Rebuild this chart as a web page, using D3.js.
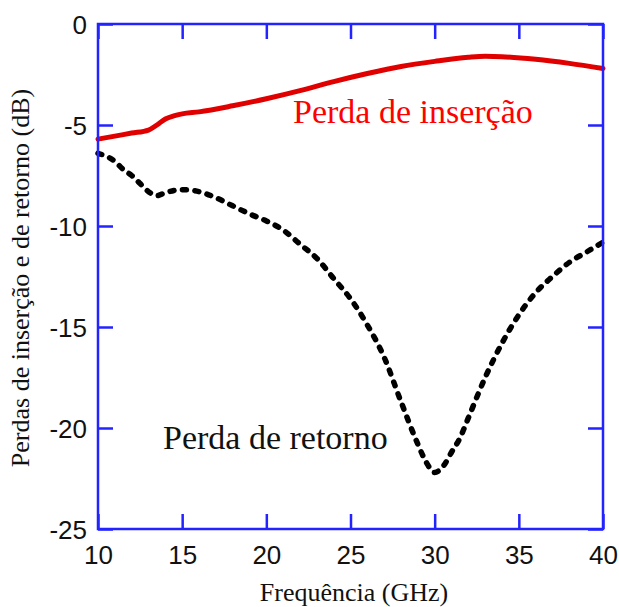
<!DOCTYPE html>
<html>
<head>
<meta charset="utf-8">
<script src="https://cdn.jsdelivr.net/npm/d3@7"></script>
<style>
  html, body { margin: 0; padding: 0; background: #fff; }
  svg { display: block; }
</style>
</head>
<body>
<svg id="chart" width="619" height="607"></svg>
<script>
// Frequency axis (GHz) and loss values (dB)
const insFreq = [10, 11, 12, 13, 13.5, 14, 14.5, 15, 16, 18, 20, 22, 24, 26, 28, 30, 32, 33, 34, 36, 38, 40];
const insLoss = [-5.7, -5.55, -5.4, -5.25, -5.0, -4.7, -4.55, -4.45, -4.35, -4.05, -3.7, -3.3, -2.85, -2.45, -2.1, -1.85, -1.65, -1.6, -1.62, -1.75, -1.95, -2.2];

const retFreq = [10, 11, 11.5, 12, 12.5, 13, 13.5, 14, 15, 16, 17, 18, 19, 20, 21, 22, 23, 24, 25, 26, 27, 28, 29, 29.5, 30, 30.5, 31, 31.5, 32, 33, 34, 35, 36, 37, 38, 39, 40];
const retLoss = [-6.4, -6.8, -7.2, -7.5, -7.9, -8.3, -8.5, -8.35, -8.2, -8.3, -8.6, -9.0, -9.4, -9.75, -10.2, -10.9, -11.6, -12.6, -13.6, -14.9, -16.5, -18.7, -20.8, -21.7, -22.2, -21.9, -21.2, -20.5, -19.5, -17.5, -15.8, -14.4, -13.3, -12.5, -11.8, -11.3, -10.8];

const xTicks = [10, 15, 20, 25, 30, 35, 40];
const yTicks = [0, -5, -10, -15, -20, -25];

const xTitle = "Frequência (GHz)";
const yTitle = "Perdas de inserção e de retorno (dB)";
const insLabel = "Perda de inserção";
const retLabel = "Perda de retorno";

const W = 619, H = 607;
const margin = { left: 98, top: 24, right: 16, bottom: 78 };
const iw = W - margin.left - margin.right;
const ih = H - margin.top - margin.bottom;

const svg = d3.select("#chart");
const g = svg.append("g").attr("transform", `translate(${margin.left},${margin.top})`);

const x = d3.scaleLinear().domain([10, 40]).range([0, iw]);
const y = d3.scaleLinear().domain([-25, 0]).range([ih, 0]);

const axisColor = "#2323ff";
const tickLen = 15;
const serif = "'Liberation Serif', 'Times New Roman', serif";
const sans = "'Liberation Sans', Arial, sans-serif";
// plain hyphen-minus for negative tick labels
const fmt = d => String(d);

// Curves
const line = d3.line().x(d => x(d[0])).y(d => y(d[1])).curve(d3.curveMonotoneX);

g.append("path")
  .datum(retFreq.map((f, i) => [f, retLoss[i]]))
  .attr("d", line)
  .attr("fill", "none")
  .attr("stroke", "#000")
  .attr("stroke-width", 5.5)
  .attr("stroke-linecap", "round")
  .attr("stroke-dasharray", "4 8.5");

g.append("path")
  .datum(insFreq.map((f, i) => [f, insLoss[i]]))
  .attr("d", line)
  .attr("fill", "none")
  .attr("stroke", "#e00000")
  .attr("stroke-width", 5)
  .attr("stroke-linecap", "round");

// Axes with inward ticks on all four sides
function styleAxis(sel) {
  sel.select(".domain").remove();
  sel.selectAll(".tick line").attr("stroke", axisColor).attr("stroke-width", 2.5);
  sel.selectAll(".tick text").attr("fill", "#111").style("font-family", sans).style("font-size", "26px");
}

const axBottom = g.append("g").attr("transform", `translate(0,${ih})`)
  .call(d3.axisBottom(x).tickValues(xTicks).tickSize(-tickLen).tickPadding(17).tickFormat(fmt));
styleAxis(axBottom);

const axTop = g.append("g")
  .call(d3.axisTop(x).tickValues(xTicks).tickSize(-tickLen).tickFormat(""));
styleAxis(axTop);

const axLeft = g.append("g")
  .call(d3.axisLeft(y).tickValues(yTicks).tickSize(-tickLen).tickPadding(11).tickFormat(fmt));
styleAxis(axLeft);
axLeft.selectAll(".tick text").attr("dy", "0.36em");

const axRight = g.append("g").attr("transform", `translate(${iw},0)`)
  .call(d3.axisRight(y).tickValues(yTicks).tickSize(-tickLen).tickFormat(""));
styleAxis(axRight);

// Frame
g.append("rect")
  .attr("x", 0).attr("y", 0).attr("width", iw).attr("height", ih)
  .attr("fill", "none")
  .attr("stroke", axisColor)
  .attr("stroke-width", 2.5);

// Axis titles
svg.append("text")
  .attr("x", 354).attr("y", 601)
  .attr("text-anchor", "middle")
  .style("font-family", serif).style("font-size", "26px").attr("fill", "#111")
  .text(xTitle);

svg.append("text")
  .attr("transform", "translate(29,278) rotate(-90)")
  .attr("text-anchor", "middle")
  .style("font-family", serif).style("font-size", "26px").attr("fill", "#111")
  .text(yTitle);

// Series labels
svg.append("text")
  .attr("x", 293).attr("y", 123)
  .style("font-family", serif).style("font-size", "34px").attr("fill", "#ff0000")
  .text(insLabel);

svg.append("text")
  .attr("x", 163).attr("y", 449)
  .style("font-family", serif).style("font-size", "34px").attr("fill", "#111")
  .text(retLabel);
</script>
</body>
</html>
